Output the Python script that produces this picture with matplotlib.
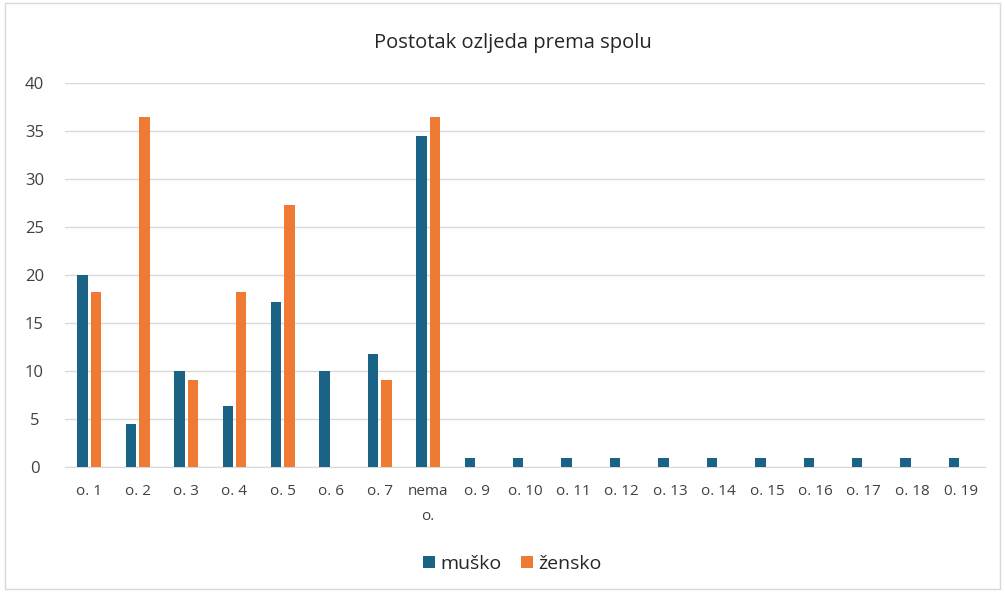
import matplotlib.pyplot as plt
import numpy as np
from matplotlib.patches import Rectangle

# data
categories = ["o. 1", "o. 2", "o. 3", "o. 4", "o. 5", "o. 6", "o. 7", "nema\no.",
              "o. 9", "o. 10", "o. 11", "o. 12", "o. 13", "o. 14", "o. 15",
              "o. 16", "o. 17", "o. 18", "0. 19"]
musko = [20.0, 4.5, 10.0, 6.4, 17.2, 10.0, 11.8, 34.5,
         0.9, 0.9, 0.9, 0.9, 0.9, 0.9, 0.9, 0.9, 0.9, 0.9, 0.9]
zensko = [18.2, 36.4, 9.1, 18.2, 27.3, 0, 9.1, 36.4,
          0, 0, 0, 0, 0, 0, 0, 0, 0, 0, 0]

plt.rcParams['font.family'] = ['Open Sans', 'DejaVu Sans']

fig = plt.figure(figsize=(10.05, 5.92), dpi=100)
ax = fig.add_axes([0.0647, 0.211, 0.9153, 0.649])

# light border around the chart
fig.patches.append(Rectangle((0.005, 0.005), 0.99, 0.99, transform=fig.transFigure,
                             fill=False, edgecolor="#d9d9d9", linewidth=1))

x = np.arange(len(categories))
w = 0.215
ax.bar(x - 0.138, musko, w, color="#1b6386", label="muško", zorder=3)
ax.bar(x + 0.138, zensko, w, color="#ef7a33", label="žensko", zorder=3)

ax.set_xlim(-0.5, len(categories) - 0.5)
ax.set_ylim(0, 40)
ax.set_yticks(range(0, 41, 5))
ax.set_xticks(x)
ax.set_xticklabels(categories, fontsize=11, color="#404040", linespacing=1.9)
ax.tick_params(axis="y", labelsize=12, labelcolor="#404040", length=0, pad=22)
ax.tick_params(axis="x", length=0, pad=12)
for lbl in ax.get_yticklabels():
    lbl.set_horizontalalignment("center")
ax.yaxis.grid(True, color="#d9d9d9", linewidth=1, zorder=0)
for s in ["top", "right", "left"]:
    ax.spines[s].set_visible(False)
ax.spines["bottom"].set_color("#d9d9d9")

fig.text(0.51, 0.927, "Postotak ozljeda prema spolu", ha="center", va="center",
         fontsize=14.5, color="#262626")

fig.legend(loc="center", bbox_to_anchor=(0.51, 0.048), ncol=2, frameon=False,
           fontsize=14, handlelength=0.6, handleheight=0.6, handletextpad=0.3,
           columnspacing=1.0, labelcolor="#262626")

plt.savefig("out.png", dpi=100)
